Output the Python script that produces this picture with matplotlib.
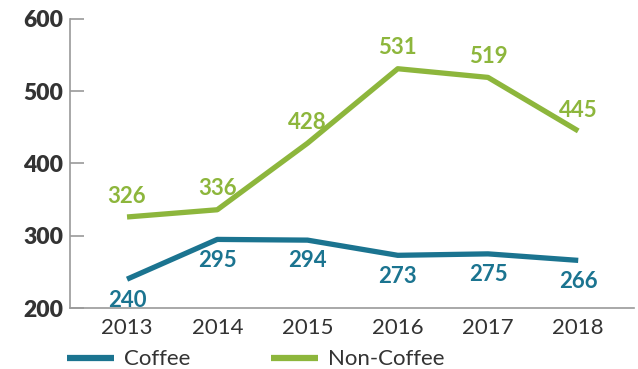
import matplotlib
matplotlib.use('Agg')
import matplotlib.pyplot as plt
from matplotlib.lines import Line2D

# data
years = [2013, 2014, 2015, 2016, 2017, 2018]
coffee = [240, 295, 294, 273, 275, 266]
non_coffee = [326, 336, 428, 531, 519, 445]
y_ticks = [200, 300, 400, 500, 600]

teal = '#1b7490'
green = '#8db63c'
dark = '#333333'
grey = '#9a9a9a'

plt.rcParams['font.family'] = ['Lato', 'DejaVu Sans']

fig = plt.figure(figsize=(6.38, 3.69), dpi=100)
ax = fig.add_axes([0.110, 0.165, 0.884, 0.784])

ax.plot(years, coffee, color=teal, lw=3.8, solid_capstyle='butt')
ax.plot(years, non_coffee, color=green, lw=3.8, solid_capstyle='butt')

# value labels: coffee below, non-coffee above
for x, v in zip(years, coffee):
    ax.annotate(str(v), (x, v), xytext=(0, -15), textcoords='offset points',
                ha='center', va='center', color=teal, fontsize=16, fontweight='bold')
for x, v in zip(years, non_coffee):
    ax.annotate(str(v), (x, v), xytext=(0, 15), textcoords='offset points',
                ha='center', va='center', color=green, fontsize=16, fontweight='bold')

ax.set_xlim(2012.37, 2018.62)
ax.set_ylim(200, 600)
ax.set_xticks(years)
ax.set_xticklabels([str(y) for y in years])
ax.set_yticks(y_ticks)

for s in ['top', 'right']:
    ax.spines[s].set_visible(False)
for s in ['left', 'bottom']:
    ax.spines[s].set_color(grey)
    ax.spines[s].set_linewidth(1.2)

ax.tick_params(axis='y', direction='in', length=10, width=1.2, color=grey,
               labelsize=16.5, labelcolor=dark, pad=5)
ax.tick_params(axis='x', length=0, labelsize=16, labelcolor=dark, pad=7)
for lbl in ax.get_yticklabels():
    lbl.set_fontweight('heavy')

handles = [Line2D([], [], color=teal, lw=4.5, solid_capstyle='butt'),
           Line2D([], [], color=green, lw=4.5, solid_capstyle='butt')]
fig.legend(handles, ['Coffee', 'Non-Coffee'], loc='lower left',
           bbox_to_anchor=(0.074, -0.055), ncol=2, frameon=False,
           fontsize=16, handlelength=2.1, handletextpad=0.45, columnspacing=3.65,
           labelcolor=dark)

fig.savefig('out.png', dpi=100)
